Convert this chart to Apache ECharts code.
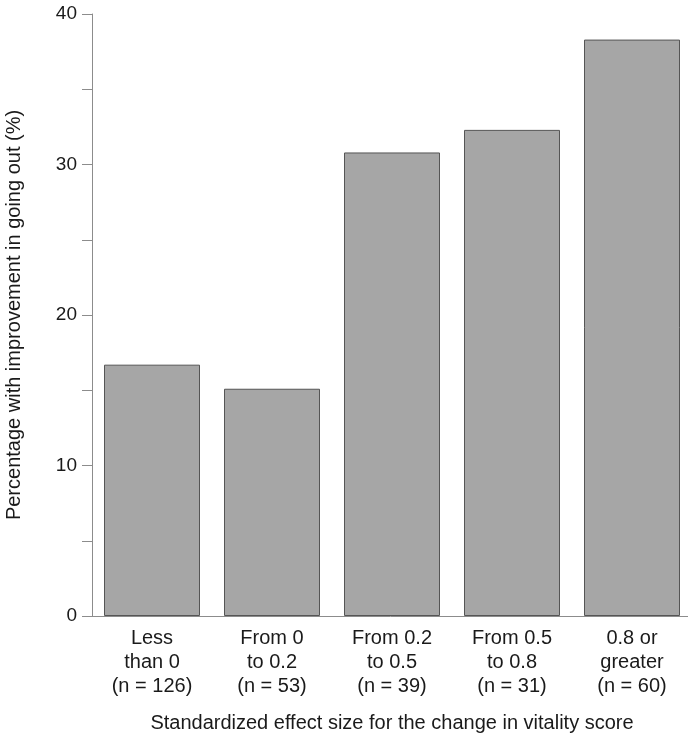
<!DOCTYPE html>
<html>
<head>
<meta charset="utf-8">
<script src="https://cdn.jsdelivr.net/npm/echarts@6/dist/echarts.min.js"></script>
<style>
  html, body { margin: 0; padding: 0; background: #fff; }
  #chart { width: 688px; height: 745px; }
</style>
</head>
<body>
<div id="chart"></div>
<script>
  // categories and values
  var categories = [
    'Less\nthan 0\n(n = 126)',
    'From 0\nto 0.2\n(n = 53)',
    'From 0.2\nto 0.5\n(n = 39)',
    'From 0.5\nto 0.8\n(n = 31)',
    '0.8 or\ngreater\n(n = 60)'
  ];
  var percentages = [16.7, 15.1, 30.8, 32.3, 38.3];
  var yTicks = [0, 10, 20, 30, 40];

  var chart = echarts.init(document.getElementById('chart'));
  var textColor = '#1a1a1a';
  var axisColor = '#8c8c8c';

  chart.setOption({
    animation: false,
    textStyle: { fontFamily: 'Liberation Sans, Arial, sans-serif' },
    grid: { left: 92, right: -4, top: 14, bottom: 129, outerBoundsMode: 'none' },
    xAxis: {
      type: 'category',
      data: categories,
      name: 'Standardized effect size for the change in vitality score',
      nameLocation: 'middle',
      nameGap: 97,
      nameTextStyle: { fontSize: 20, color: textColor },
      axisLine: { lineStyle: { color: axisColor, width: 1 } },
      axisTick: { show: false },
      axisLabel: { fontSize: 20, color: textColor, lineHeight: 24, margin: 10 }
    },
    yAxis: {
      type: 'value',
      min: yTicks[0],
      max: yTicks[yTicks.length - 1],
      interval: 5,
      name: 'Percentage with improvement in going out (%)',
      nameLocation: 'middle',
      nameGap: 68,
      nameTextStyle: { fontSize: 20, color: textColor },
      axisLine: { show: true, lineStyle: { color: axisColor, width: 1 } },
      axisTick: { show: true, length: 10, lineStyle: { color: axisColor } },
      splitLine: { show: false },
      axisLabel: {
        fontSize: 19,
        color: textColor,
        margin: 15,
        formatter: function (v) { return yTicks.indexOf(v) >= 0 ? String(v) : ''; }
      }
    },
    series: [{
      type: 'bar',
      data: percentages,
      barCategoryGap: '20%',
      itemStyle: { color: '#a6a6a6', borderColor: '#555555', borderWidth: 1 }
    }]
  });
</script>
</body>
</html>
